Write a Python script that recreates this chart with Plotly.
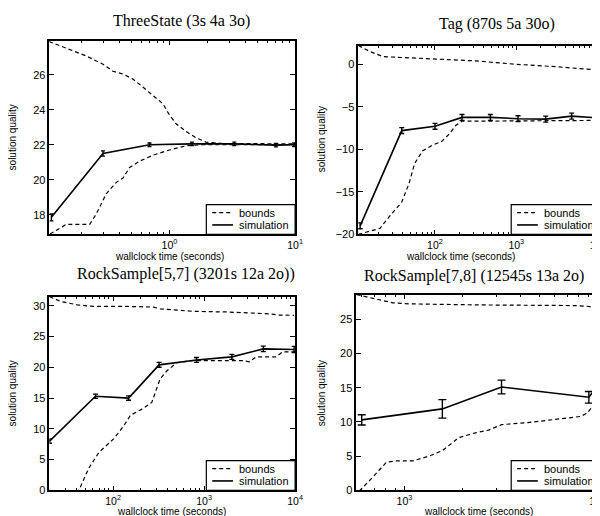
import math
import plotly.graph_objects as go

# ---------------- data ----------------
# ThreeState
ts_sim_t = [0.115, 0.296, 0.694, 1.51, 3.28, 7.03, 9.8]
ts_sim_v = [17.85, 21.5, 22.0, 22.05, 22.05, 21.98, 22.0]
ts_sim_e = [0.2, 0.15, 0.1, 0.1, 0.1, 0.1, 0.1]
ts_up_t = [0.110, 0.161, 0.218, 0.296, 0.355, 0.427, 0.512, 0.614, 0.738, 0.885, 1.0, 1.13, 1.36, 1.63, 1.95, 2.65, 10.0]
ts_up_v = [27.9, 27.45, 27.07, 26.6, 26.2, 26.04, 25.75, 25.3, 24.8, 24.35, 23.7, 23.2, 22.75, 22.4, 22.15, 22.07, 22.05]
ts_lo_t = [0.112, 0.151, 0.232, 0.262, 0.314, 0.378, 0.427, 0.482, 0.578, 0.738, 1.0, 1.36, 1.84, 10.0]
ts_lo_v = [16.9, 17.45, 17.45, 18.05, 19.2, 19.85, 20.1, 20.7, 21.06, 21.4, 21.7, 21.94, 22.0, 22.0]

# Tag
tag_sim_t = [12, 39, 100, 215, 480, 1050, 2300, 4800, 10000]
tag_sim_v = [-19.0, -7.8, -7.3, -6.25, -6.25, -6.4, -6.45, -6.1, -6.3]
tag_sim_e = [0.35, 0.35, 0.35, 0.35, 0.35, 0.35, 0.35, 0.35, 0.35]
tag_up_t = [11.4, 15.8, 22.9, 100, 311, 1000, 3214, 10700]
tag_up_v = [2.2, 1.5, 0.9, 0.6, 0.4, 0.0, -0.3, -0.7]
tag_lo_t = [11.4, 21, 27.5, 39, 48, 56, 70, 93, 120, 150, 180, 215, 10700]
tag_lo_v = [-20.0, -19.3, -17.9, -16.2, -14.0, -11.7, -10.2, -9.5, -9.1, -8.2, -7.2, -6.7, -6.6]

# RockSample[5,7]
r57_sim_t = [20, 64, 148, 320, 824, 2018, 4474, 9750]
r57_sim_v = [8.0, 15.3, 15.0, 20.4, 21.2, 21.7, 23.0, 22.9]
r57_sim_e = [0.35, 0.35, 0.35, 0.4, 0.4, 0.4, 0.45, 0.5]
r57_up_t = [20, 26.6, 40.4, 61.5, 142, 278, 328, 499, 759, 1754, 4048, 5200, 6680, 9750]
r57_up_v = [31.5, 30.7, 30.16, 29.9, 29.9, 29.8, 29.5, 29.25, 29.1, 29.0, 28.8, 28.7, 28.5, 28.45]
r57_lo_t = [34, 42, 54, 70, 102, 131, 155, 207, 266, 290, 328, 388, 499, 759, 2661, 3147, 3724, 6152, 7278, 9750]
r57_lo_v = [-2.5, 0.0, 3.6, 6.2, 8.4, 10.5, 12.2, 13.2, 14.3, 15.9, 18.1, 19.4, 20.75, 21.1, 21.1, 20.9, 21.7, 21.7, 22.5, 22.5]

# RockSample[7,8]
r78_sim_t = [600, 1573, 3191, 9060, 10000]
r78_sim_v = [10.3, 11.9, 15.1, 13.6, 15.2]
r78_sim_e = [0.75, 1.35, 1.0, 0.85, 1.0]
r78_up_t = [565, 716, 871, 1061, 2335, 7590, 8890, 10400]
r78_up_v = [28.6, 28.0, 27.4, 27.25, 27.1, 27.0, 26.9, 26.6]
r78_lo_t = [560, 588, 689, 805, 906, 1104, 1344, 1573, 1915, 2333, 2731, 3194, 4375, 6237, 8222, 8892, 9617, 10400]
r78_lo_v = [-1.0, 0.0, 2.0, 4.1, 4.3, 4.3, 5.0, 5.8, 7.7, 8.4, 8.8, 9.6, 9.9, 10.4, 10.8, 11.3, 12.5, 13.9]

titles = ["ThreeState (3s 4a 3o)", "Tag (870s 5a 30o)",
          "RockSample[5,7] (3201s 12a 2o))", "RockSample[7,8] (12545s 13a 2o)"]
legend_names = ["bounds", "simulation"]
xlabel = "wallclock time (seconds)"
ylabel = "solution quality"

# ---------------- layout geometry ----------------
W, H = 600, 516


def px_x(p):
    return p / W


def px_y(p):
    return 1 - p / H


panels = [
    dict(sim=(ts_sim_t, ts_sim_v, ts_sim_e), up=(ts_up_t, ts_up_v), lo=(ts_lo_t, ts_lo_v),
         xd=[px_x(42), px_x(291)], yd=[px_y(229), px_y(33)],
         xr=[-0.955, 1.0], yr=[16.88, 27.95], xt=[1, 10], yt=[18, 20, 22, 24, 26],
         decades=[-1, 0], cap=2,
         title_xy=(176, 13), xl_xy=(164, 251), yl_xy=(5, 131), leg=(291, 229)),
    dict(sim=(tag_sim_t, tag_sim_v, tag_sim_e), up=(tag_up_t, tag_up_v), lo=(tag_lo_t, tag_lo_v),
         xd=[px_x(355), 1.0], yd=[px_y(229), px_y(38)],
         xr=[1.056, 4.03], yr=[-20, 2.2], xt=[100, 1000, 10000], yt=[-20, -15, -10, -5, 0],
         decades=[1, 2, 3], cap=2.5,
         title_xy=(496, 16), xl_xy=(459, 251), yl_xy=(318, 133), leg=(600, 229)),
    dict(sim=(r57_sim_t, r57_sim_v, r57_sim_e), up=(r57_up_t, r57_up_v), lo=(r57_lo_t, r57_lo_v),
         xd=[px_x(42), px_x(291)], yd=[px_y(488), px_y(292)],
         xr=[1.3, 4.0], yr=[0, 31.5], xt=[100, 1000, 10000], yt=[0, 5, 10, 15, 20, 25, 30],
         decades=[1, 2, 3], cap=2.5,
         title_xy=(180, 269), xl_xy=(166, 509.5), yl_xy=(5, 390), leg=(291, 488)),
    dict(sim=(r78_sim_t, r78_sim_v, r78_sim_e), up=(r78_up_t, r78_up_v), lo=(r78_lo_t, r78_lo_v),
         xd=[px_x(353), 1.0], yd=[px_y(488), px_y(290)],
         xr=[2.75, 4.015], yr=[0, 28.6], xt=[1000, 10000], yt=[0, 5, 10, 15, 20, 25],
         decades=[2, 3], cap=4,
         title_xy=(472, 271), xl_xy=(477, 509.5), yl_xy=(318, 390), leg=(600, 488)),
]

SANS = "Liberation Sans, Arial, sans-serif"
SERIF = "Liberation Serif, Times New Roman, serif"

fig = go.Figure()
annotations = []
shapes = []
layout = dict(
    width=W, height=H, margin=dict(l=0, r=0, t=0, b=0),
    paper_bgcolor="white", plot_bgcolor="white",
    font=dict(family=SANS, size=11, color="black"),
    showlegend=False,
)

DASH = dict(color="black", width=1.2, dash="4px,3px")
SOLID = dict(color="black", width=1.6)

for i, p in enumerate(panels):
    n = i + 1
    sfx = "" if n == 1 else str(n)
    xa, ya = "x" + sfx, "y" + sfx
    st, sv, se = p["sim"]
    ut, uv = p["up"]
    lt, lv = p["lo"]
    fig.add_trace(go.Scatter(x=ut, y=uv, mode="lines", line=DASH, name="bounds",
                             xaxis=xa, yaxis=ya))
    fig.add_trace(go.Scatter(x=lt, y=lv, mode="lines", line=DASH, name="bounds",
                             xaxis=xa, yaxis=ya))
    fig.add_trace(go.Scatter(x=st, y=sv, mode="lines", line=SOLID,
                             error_y=dict(type="data", array=se, color="black",
                                          thickness=1.4, width=p["cap"]),
                             name="simulation", xaxis=xa, yaxis=ya, cliponaxis=False))

    minor_vals = [k * 10 ** d for d in p["decades"] for k in range(2, 10)]
    layout["xaxis" + sfx] = dict(
        type="log", domain=p["xd"], range=p["xr"], anchor=ya,
        tickmode="array", tickvals=p["xt"],
        ticktext=["10<sup>%d</sup>" % round(math.log10(v)) for v in p["xt"]],
        ticks="inside", ticklen=5, tickwidth=1, tickcolor="black",
        minor=dict(tickmode="array", tickvals=minor_vals, ticks="inside",
                   ticklen=2.5, tickwidth=1, tickcolor="black", showgrid=False),
        showline=True, linecolor="black", linewidth=1.5, mirror="allticks",
        showgrid=False, zeroline=False, ticklabeloverflow="allow",
        tickfont=dict(family=SANS, size=10.5, color="black"),
    )
    layout["yaxis" + sfx] = dict(
        domain=p["yd"], range=p["yr"], anchor=xa,
        tickmode="array", tickvals=p["yt"],
        ticks="inside", ticklen=5, tickwidth=1, tickcolor="black",
        showline=True, linecolor="black", linewidth=1.5, mirror="allticks",
        showgrid=False, zeroline=False,
        tickfont=dict(family=SANS, size=11, color="black"),
    )

    # legend box (bottom-right of each panel)
    lx, ly = p["leg"]
    x0, x1 = lx - 90, lx
    y0, y1 = ly - 30, ly
    shapes.append(dict(type="rect", xref="paper", yref="paper",
                       x0=px_x(x0), x1=px_x(x1), y0=px_y(y1), y1=px_y(y0),
                       line=dict(color="black", width=1.2), fillcolor="white", layer="above"))
    for k, (nm, ln) in enumerate(zip(legend_names, [DASH, SOLID])):
        yy = y0 + 8 + 12.5 * k
        shapes.append(dict(type="line", xref="paper", yref="paper",
                           x0=px_x(x0 + 6), x1=px_x(x0 + 27), y0=px_y(yy), y1=px_y(yy),
                           line=ln, layer="above"))
        annotations.append(dict(text=nm, x=px_x(x0 + 31), y=px_y(yy), xref="paper", yref="paper",
                                showarrow=False, xanchor="left", yanchor="middle",
                                font=dict(family=SANS, size=11, color="black")))

    tx, ty = p["title_xy"]
    annotations.append(dict(text=titles[i], x=px_x(tx), y=px_y(ty), xref="paper", yref="paper",
                            showarrow=False, xanchor="center", yanchor="middle",
                            font=dict(family=SERIF, size=16, color="black")))
    xx, xy = p["xl_xy"]
    annotations.append(dict(text=xlabel, x=px_x(xx), y=px_y(xy), xref="paper", yref="paper",
                            showarrow=False, xanchor="center", yanchor="middle", borderpad=0,
                            font=dict(family=SANS, size=10, color="black")))
    yx, yy = p["yl_xy"]
    annotations.append(dict(text=ylabel, x=px_x(yx), y=px_y(yy), xref="paper", yref="paper",
                            showarrow=False, xanchor="center", yanchor="middle", textangle=-90,
                            font=dict(family=SANS, size=10, color="black")))

layout["annotations"] = annotations
layout["shapes"] = shapes
fig.update_layout(**layout)
fig.write_html("out.html")
